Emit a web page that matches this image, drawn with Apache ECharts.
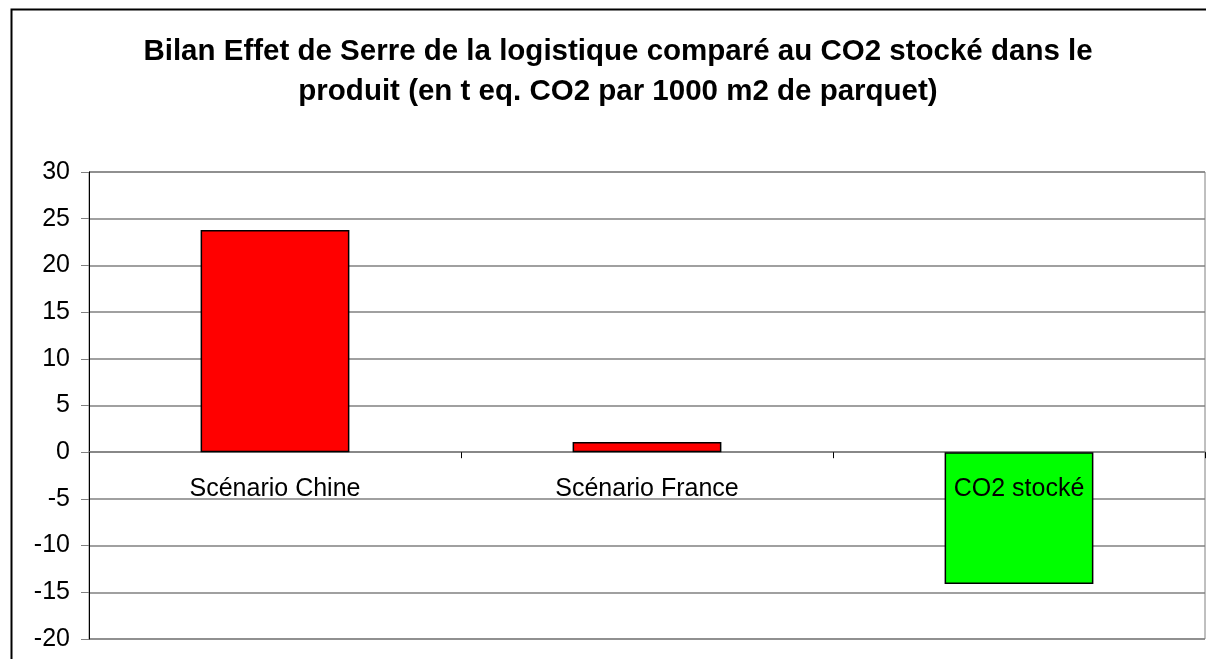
<!DOCTYPE html>
<html lang="fr">
<head>
	<meta charset="UTF-8">
	<title>Bilan Effet de Serre</title>
	<style>
		html, body { margin: 0; padding: 0; background: #fff; }
	</style>
</head>
<body>
	<div id="main" style="width: 1206px;height: 659px"></div>

	<script src="https://cdn.jsdelivr.net/npm/echarts@6/dist/echarts.min.js"></script>
	<script type="text/javascript">
	// données
	var categories = ['Scénario Chine', 'Scénario France', 'CO2 stocké'];
	var values = [23.8, 1.1, -14.1];
	var yTicks = [-20, -15, -10, -5, 0, 5, 10, 15, 20, 25, 30];

	var titre = 'Bilan Effet de Serre de la logistique comparé au CO2 stocké dans le\nproduit (en t eq. CO2 par 1000 m2 de parquet)';

	var myChart = echarts.init(document.getElementById('main'));

	var police = "'Liberation Sans', Arial, sans-serif";

	// zone de tracé
	var gridTop = 172, gridBottom = 20;
	var yMin = yTicks[0], yMax = yTicks[yTicks.length - 1];
	var gridH = 659 - gridTop - gridBottom;
	// décalage pour mettre les libellés de catégories juste sous la ligne du zéro
	var zeroOffset = -gridH * (0 - yMin) / (yMax - yMin);

	var option = {
		animation: false,
		backgroundColor: '#fff',
		title: {
			text: titre,
			left: 613,
			textAlign: 'center',
			top: 27,
			textStyle: {
				fontFamily: police,
				fontWeight: 'bold',
				fontSize: 29.5,
				lineHeight: 40,
				color: '#000'
			}
		},
		// cadre extérieur (bord haut et gauche visibles)
		graphic: [{
			type: 'rect',
			left: 9,
			top: 7,
			shape: { width: 1300, height: 700 },
			style: { fill: 'none', stroke: '#000', lineWidth: 2 },
			silent: true
		}],
		grid: {
			left: 89,
			right: 1,
			top: gridTop,
			bottom: gridBottom,
			show: true,
			borderColor: '#808080',
			borderWidth: 1,
			containLabel: false,
			outerBoundsMode: 'none'
		},
		xAxis: [{
			type: 'category',
			data: categories,
			axisLine: { show: true, onZero: true, lineStyle: { color: '#808080', width: 1.5 } },
			axisTick: {
				show: true,
				length: 6,
				alignWithLabel: false,
				lineStyle: { color: '#000', width: 1 }
			},
			axisLabel: { show: false },
			splitLine: { show: false }
		}, {
			// libellés seuls, dessinés par-dessus les barres
			type: 'category',
			data: categories,
			position: 'bottom',
			offset: zeroOffset,
			z: 10,
			axisLine: { show: false, onZero: false },
			axisTick: { show: false },
			axisLabel: {
				margin: 24,
				fontFamily: police,
				fontSize: 25,
				color: '#000'
			},
			splitLine: { show: false }
		}],
		yAxis: {
			type: 'value',
			min: yMin,
			max: yMax,
			interval: 5,
			axisLine: { show: true, lineStyle: { color: '#000', width: 1 } },
			axisTick: { show: true, length: 8, lineStyle: { color: '#808080' } },
			axisLabel: {
				margin: 19,
				fontFamily: police,
				fontSize: 25,
				color: '#000'
			},
			splitLine: { show: true, lineStyle: { color: '#808080', width: 1.5 } }
		},
		series: [{
			type: 'bar',
			data: values,
			barWidth: '40%',
			itemStyle: {
				color: function (p) { return p.value < 0 ? '#00FF00' : '#FF0000'; },
				borderColor: '#000',
				borderWidth: 1.5
			}
		}]
	};
	myChart.setOption(option);
	</script>
</body>
</html>
